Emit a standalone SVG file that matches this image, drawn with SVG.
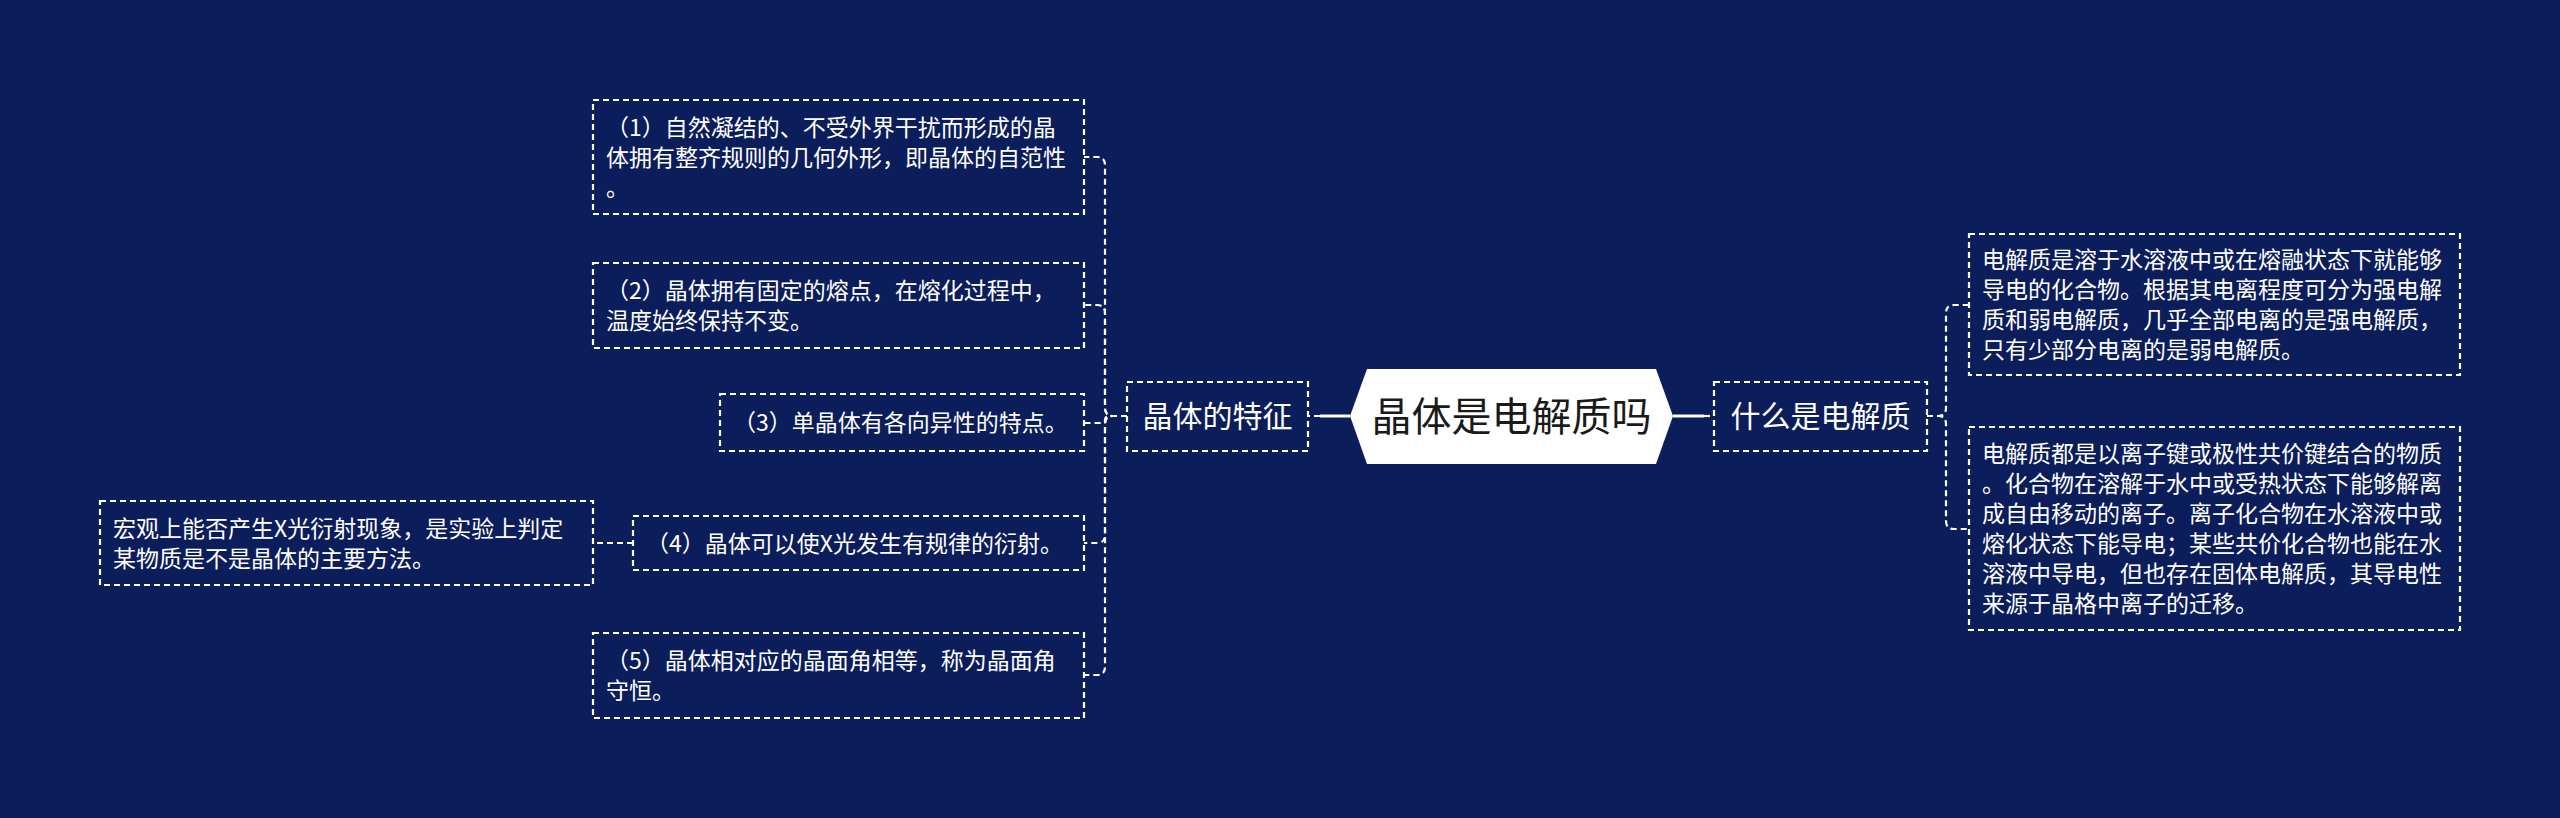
<svg xmlns="http://www.w3.org/2000/svg" width="2560" height="818" viewBox="0 0 2560 818">
<style>
.box{fill:none;stroke:#fff;stroke-width:2.2;stroke-dasharray:6 4}
.t{font-family:"Noto Sans CJK SC","Noto Sans",sans-serif;font-size:23px;fill:#fff}
.sub{font-family:"Noto Sans CJK SC","Noto Sans",sans-serif;font-size:30px;fill:#fff;text-anchor:middle}
.main{font-family:"Noto Sans CJK SC","Noto Sans",sans-serif;font-size:40px;fill:#1a1a1a;text-anchor:middle}
.conn{fill:none;stroke:#fff;stroke-width:2.2;stroke-dasharray:6 4}
.solid{fill:none;stroke:#fff;stroke-width:3}
</style>
<rect x="0" y="0" width="2560" height="818" fill="#0b1d5b"/>
<g id="connectors">
<path class="solid" d="M1350 416 H1320"/>
<path class="conn" d="M1320 416 H1308"/>
<path class="solid" d="M1673 416 H1704"/>
<path class="conn" d="M1704 416 H1714"/>
<path class="conn" d="M1127 416 H1113 Q1105 416 1105 408 V165 Q1105 157 1097 157 H1084"/>
<path class="conn" d="M1127 416 H1113 Q1105 416 1105 408 V313 Q1105 305 1097 305 H1084"/>
<path class="conn" d="M1127 416 H1110 Q1105 416 1105 420 Q1105 423 1100 423 H1084"/>
<path class="conn" d="M1127 416 H1113 Q1105 416 1105 424 V535 Q1105 543 1097 543 H1084"/>
<path class="conn" d="M1127 416 H1113 Q1105 416 1105 424 V667 Q1105 675 1097 675 H1084"/>
<path class="conn" d="M633 543 H593"/>
<path class="conn" d="M1927 416 H1938 Q1946 416 1946 408 V313 Q1946 305 1954 305 H1969"/>
<path class="conn" d="M1927 416 H1938 Q1946 416 1946 424 V521 Q1946 529 1954 529 H1969"/>
</g>
<g id="root">
<polygon points="1350,416 1367,369 1656,369 1673,416 1656,464 1367,464" fill="#fff"/>
<text class="main" x="1511.5" y="430.5">晶体是电解质吗</text>
</g>
<g id="features">
<rect class="box" x="1127" y="382" width="181" height="69"/>
<text class="sub" x="1217.5" y="427">晶体的特征</text>
</g>
<g id="what">
<rect class="box" x="1714" y="382" width="213" height="69"/>
<text class="sub" x="1820.5" y="427">什么是电解质</text>
</g>
<g id="f1">
<rect class="box" x="593" y="100" width="491" height="114"/>
<text class="t" x="606" y="135.5">（1）自然凝结的、不受外界干扰而形成的晶</text>
<text class="t" x="606" y="165.5">体拥有整齐规则的几何外形，即晶体的自范性</text>
<text class="t" x="606" y="195.5">。</text>
</g>
<g id="f2">
<rect class="box" x="593" y="263" width="491" height="85"/>
<text class="t" x="606" y="299">（2）晶体拥有固定的熔点，在熔化过程中，</text>
<text class="t" x="606" y="329">温度始终保持不变。</text>
</g>
<g id="f3">
<rect class="box" x="720" y="394" width="364" height="57"/>
<text class="t" x="733" y="431">（3）单晶体有各向异性的特点。</text>
</g>
<g id="f4">
<rect class="box" x="633" y="516" width="451" height="54"/>
<text class="t" x="646" y="551.5">（4）晶体可以使X光发生有规律的衍射。</text>
</g>
<g id="f4note">
<rect class="box" x="100" y="501" width="493" height="84"/>
<text class="t" x="113" y="536.5">宏观上能否产生X光衍射现象，是实验上判定</text>
<text class="t" x="113" y="566.5">某物质是不是晶体的主要方法。</text>
</g>
<g id="f5">
<rect class="box" x="593" y="633" width="491" height="85"/>
<text class="t" x="606" y="669">（5）晶体相对应的晶面角相等，称为晶面角</text>
<text class="t" x="606" y="699">守恒。</text>
</g>
<g id="r1">
<rect class="box" x="1969" y="234" width="491" height="141"/>
<text class="t" x="1982" y="268">电解质是溶于水溶液中或在熔融状态下就能够</text>
<text class="t" x="1982" y="298">导电的化合物。根据其电离程度可分为强电解</text>
<text class="t" x="1982" y="328">质和弱电解质，几乎全部电离的是强电解质，</text>
<text class="t" x="1982" y="358">只有少部分电离的是弱电解质。</text>
</g>
<g id="r2">
<rect class="box" x="1969" y="427" width="491" height="203"/>
<text class="t" x="1982" y="462">电解质都是以离子键或极性共价键结合的物质</text>
<text class="t" x="1982" y="492">。化合物在溶解于水中或受热状态下能够解离</text>
<text class="t" x="1982" y="522">成自由移动的离子。离子化合物在水溶液中或</text>
<text class="t" x="1982" y="552">熔化状态下能导电；某些共价化合物也能在水</text>
<text class="t" x="1982" y="582">溶液中导电，但也存在固体电解质，其导电性</text>
<text class="t" x="1982" y="612">来源于晶格中离子的迁移。</text>
</g>
</svg>
